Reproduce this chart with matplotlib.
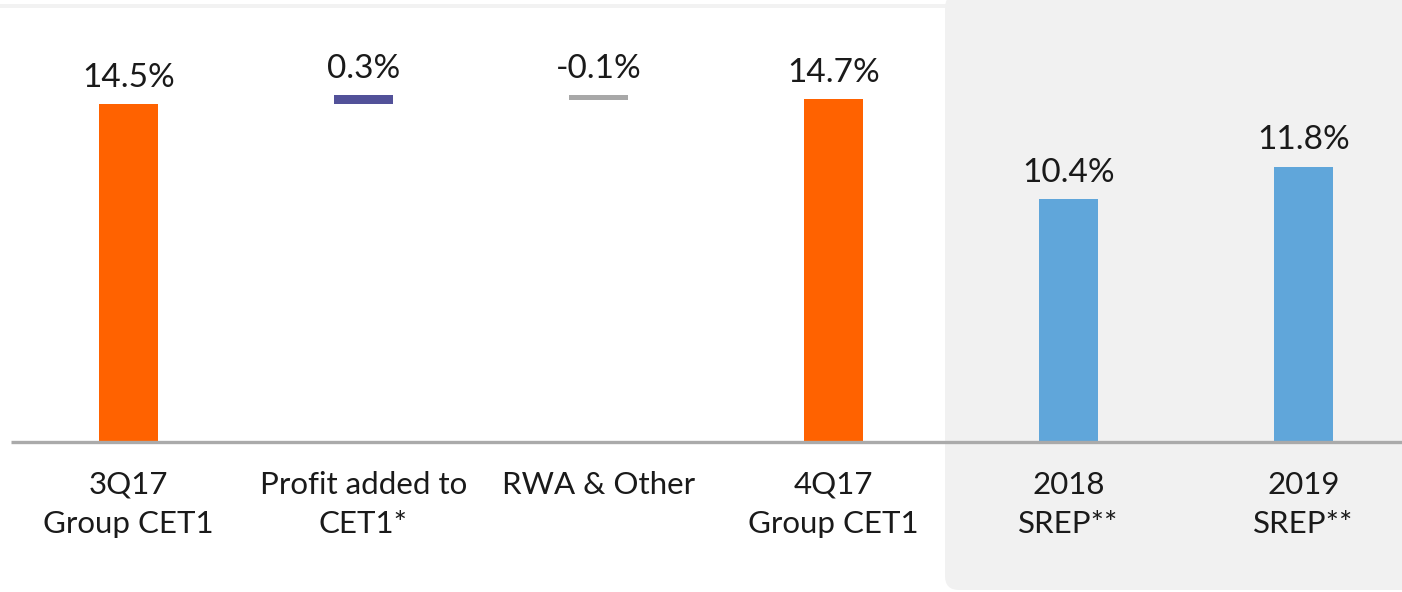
import matplotlib
matplotlib.use("Agg")
import matplotlib.pyplot as plt
from matplotlib.patches import FancyBboxPatch, Rectangle

plt.rcParams['font.family'] = ['Lato', 'DejaVu Sans']

categories = ["3Q17\nGroup CET1", "Profit added to\nCET1*", "RWA & Other",
              "4Q17\nGroup CET1", "2018\nSREP**", "2019\nSREP**"]
values = [14.5, 0.35, -0.2, 14.7, 10.4, 11.8]
labels = ["14.5%", "0.3%", "-0.1%", "14.7%", "10.4%", "11.8%"]
kinds = ["total", "delta", "delta", "total", "total", "total"]
colors = ["#FF6200", "#525199", "#A8A8A8", "#FF6200", "#60A6DA", "#60A6DA"]

W, H = 1402, 592
fig = plt.figure(figsize=(W / 100, H / 100), dpi=100)
fig.patch.set_facecolor("white")

# background layer in pixel coordinates
bg = fig.add_axes([0, 0, 1, 1], zorder=0)
bg.set_xlim(0, W)
bg.set_ylim(H, 0)
bg.axis("off")
bg.add_patch(Rectangle((0, 4), W, 4, facecolor="#F2F2F2", edgecolor="none"))
bg.add_patch(FancyBboxPatch((945 + 14, 8), W, 582 - 14, boxstyle="round,pad=14",
                            facecolor="#F1F1F1", edgecolor="none"))

ax = fig.add_axes([0, 0, 1, 1], zorder=1)
ax.patch.set_alpha(0)
x0_px, step_px = 128.5, 235.0
base_px, scale_px = 441.5, 23.3
ax.set_xlim(-x0_px / step_px, (W - x0_px) / step_px)
ax.set_ylim(-(H - base_px) / scale_px, base_px / scale_px)
ax.axis("off")

running = 0.0
for i, (v, k, c, lab) in enumerate(zip(values, kinds, colors, labels)):
    if k == "total":
        bottom, height = 0.0, v
        running = v
    else:
        bottom, height = running, v
        running = running + v
    ax.bar(i, height, bottom=bottom, width=0.25, color=c, zorder=3)
    top = max(bottom, bottom + height)
    ax.annotate(lab, (i, top), xytext=(0, 8), textcoords="offset points",
                ha="center", va="bottom", fontsize=24, color="#1A1A1A")

ax.plot([-0.5, (W - x0_px) / step_px], [0, 0], color="#AAAAAA", lw=2.4,
        zorder=4, solid_capstyle="butt")

for i, cat in enumerate(categories):
    ax.annotate(cat, (i, 0), xytext=(0, -21), textcoords="offset points",
                ha="center", va="top", fontsize=22.5, color="#1A1A1A",
                linespacing=1.5)

fig.savefig("out.png", dpi=100)
